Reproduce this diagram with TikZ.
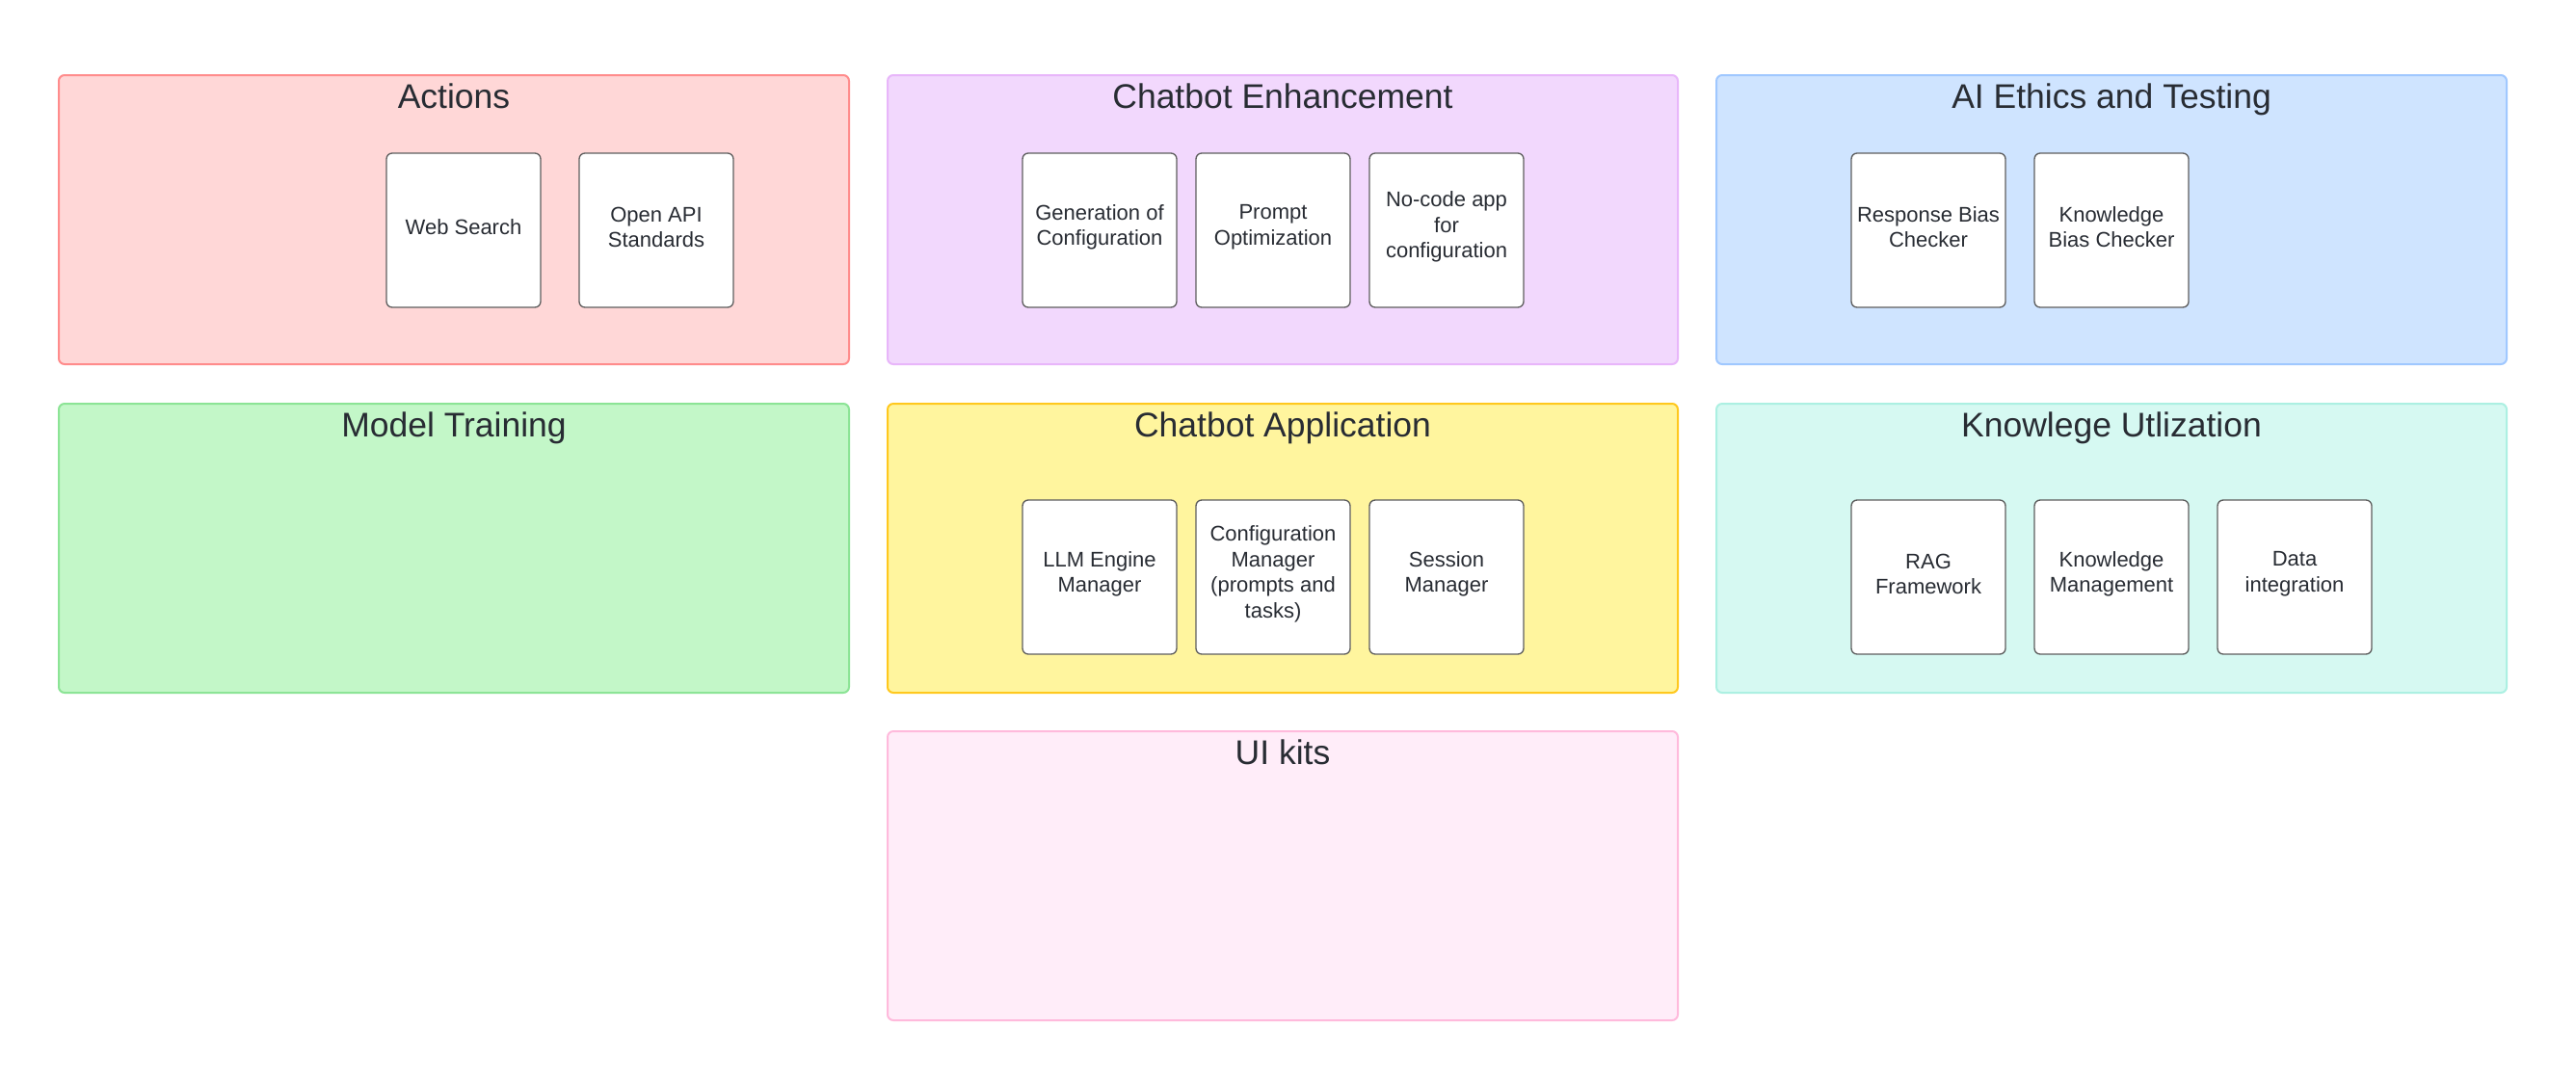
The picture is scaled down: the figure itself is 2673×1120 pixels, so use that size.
\documentclass[tikz,border=0pt]{standalone}
\usepackage{fontspec}
\setmainfont{Liberation Sans}
\definecolor{txt}{RGB}{40,44,51}
\definecolor{cardline}{RGB}{94,94,94}
\definecolor{redF}{RGB}{255,215,215}\definecolor{redD}{RGB}{255,140,140}
\definecolor{purF}{RGB}{242,216,253}\definecolor{purD}{RGB}{232,182,250}
\definecolor{bluF}{RGB}{207,228,255}\definecolor{bluD}{RGB}{160,200,255}
\definecolor{grnF}{RGB}{195,247,200}\definecolor{grnD}{RGB}{140,228,150}
\definecolor{yelF}{RGB}{255,245,158}\definecolor{yelD}{RGB}{255,200,30}
\definecolor{tealF}{RGB}{214,249,242}\definecolor{tealD}{RGB}{172,240,226}
\definecolor{pnkF}{RGB}{255,237,249}\definecolor{pnkD}{RGB}{255,186,220}
\tikzset{
  group/.style={rectangle, rounded corners=1.8pt, line width=0.6pt,
    minimum width=246pt, minimum height=90pt, inner sep=0pt, outer sep=0pt},
  gtitle/.style={anchor=base, text=txt, inner sep=0pt,
    font=\fontsize{10.65pt}{12.8pt}\selectfont},
  card/.style={rectangle, rounded corners=1.8pt, draw=cardline, fill=white,
    line width=0.4pt, minimum width=48pt, minimum height=48pt, inner sep=0pt,
    outer sep=0pt},
  cardtext/.style={align=center, text=txt, inner sep=0pt,
    font=\fontsize{6.6pt}{7.95pt}\selectfont}
}
\newcommand{\mycard}[3]{%
  \node[card] (#1) at (#2) {};
  \node[cardtext] (#1-t) at ([yshift=1pt]#1.center) {#3};}
\begin{document}
\begin{tikzpicture}[x=0.3pt, y=-0.3pt]
\useasboundingbox[fill=white] (0,0) rectangle (2673,1120);
% groups
\node[group, fill=redF, draw=redD] (gAct) at (471,228) {};
\node[group, fill=purF, draw=purD] (gEnh) at (1331,228) {};
\node[group, fill=bluF, draw=bluD] (gEth) at (2191,228) {};
\node[group, fill=grnF, draw=grnD] (gTrn) at (471,569) {};
\node[group, fill=yelF, draw=yelD] (gApp) at (1331,569) {};
\node[group, fill=tealF, draw=tealD] (gKno) at (2191,569) {};
\node[group, fill=pnkF, draw=pnkD] (gUI) at (1331,909) {};
% titles
\node[gtitle] (tAct) at (471,112) {Actions};
\node[gtitle] (tEnh) at (1331,112) {Chatbot Enhancement};
\node[gtitle] (tEth) at (2191,112) {AI Ethics and Testing};
\node[gtitle] (tTrn) at (471,453) {Model Training};
\node[gtitle] (tApp) at (1331,453) {Chatbot Application};
\node[gtitle] (tKno) at (2191,453) {Knowlege Utlization};
\node[gtitle] (tUI) at (1331,793) {UI kits};
% cards
\mycard{web}{481,239}{Web Search}
\mycard{oapi}{681,239}{Open API\\Standards}
\mycard{gen}{1141,239}{Generation of\\Configuration}
\mycard{popt}{1321,239}{Prompt\\Optimization}
\mycard{nocode}{1501,239}{No-code app\\for\\configuration}
\mycard{rbias}{2001,239}{Response Bias\\Checker}
\mycard{kbias}{2191,239}{Knowledge\\Bias Checker}
\mycard{llm}{1141,599}{LLM Engine\\Manager}
\mycard{cfg}{1321,599}{Configuration\\Manager\\(prompts and\\tasks)}
\mycard{sess}{1501,599}{Session\\Manager}
\mycard{rag}{2001,599}{RAG\\Framework}
\mycard{kman}{2191,599}{Knowledge\\Management}
\mycard{data}{2381,599}{Data\\integration}
\end{tikzpicture}
\end{document}
